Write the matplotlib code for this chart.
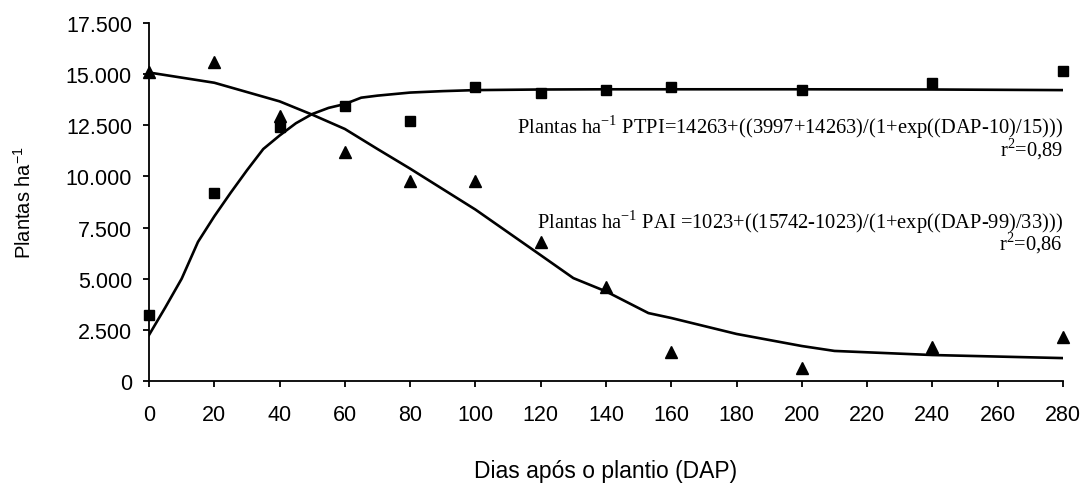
import matplotlib
matplotlib.use('Agg')
import matplotlib.pyplot as plt
from matplotlib.ticker import FuncFormatter

# observed points
dap = [0, 20, 40, 60, 80, 100, 120, 140, 160, 200, 240, 280]
ptpi_obs = [3225, 9190, 12410, 13440, 12710, 14370, 14080, 14220, 14370, 14220, 14560, 15150]
pai_obs = [15100, 15590, 12950, 11190, 9775, 9775, 6790, 4594, 1417, 635, 1660, 2150]

# fitted curves
ptpi_fit_x = [0, 5, 10, 15, 20, 25, 30, 35, 40, 45, 50, 55, 60, 65, 70, 80, 90, 100, 120, 140, 160, 200, 240, 280]
ptpi_fit_y = [2250, 3600, 5000, 6800, 8050, 9200, 10300, 11340, 12000, 12600, 13050, 13350, 13540, 13850, 13950,
              14100, 14170, 14220, 14250, 14260, 14260, 14260, 14250, 14220]
pai_fit_x = [0, 20, 40, 50, 60, 70, 80, 100, 120, 130, 140, 153, 160, 180, 200, 210, 240, 280]
pai_fit_y = [15080, 14580, 13670, 13020, 12320, 11340, 10380, 8380, 6150, 5030, 4380, 3320, 3080, 2300, 1710,
             1470, 1270, 1120]

eq_ptpi = r'Plantas ha$^{\mathregular{-1}}$ PTPI=14263+((3997+14263)/(1+exp((DAP-10)/15)))'
eq_pai = r'Plantas ha$^{\mathregular{-1}}$ PAI =1023+((15742-1023)/(1+exp((DAP-99)/33)))'
r2_ptpi = r'r$^{\mathregular{2}}$=0,89'
r2_pai = r'r$^{\mathregular{2}}$=0,86'

plt.rcParams['font.family'] = 'Liberation Sans'

fig = plt.figure(figsize=(10.83, 4.89), dpi=100)
ax = fig.add_axes([0.1376, 0.2188, 0.8439, 0.7321])

ax.plot(ptpi_fit_x, ptpi_fit_y, color='black', linewidth=1.9, zorder=2)
ax.plot(pai_fit_x, pai_fit_y, color='black', linewidth=1.9, zorder=2)
ax.plot(dap, ptpi_obs, linestyle='none', marker='s', markersize=6.5, color='black', zorder=3, clip_on=False)
ax.plot(dap, pai_obs, linestyle='none', marker='^', markersize=8.5, color='black', zorder=3, clip_on=False)

ax.set_xlim(0, 280)
ax.set_ylim(0, 17500)
ax.set_xticks(range(0, 281, 20))
ax.set_yticks(range(0, 17501, 2500))
ax.yaxis.set_major_formatter(FuncFormatter(lambda v, p: f'{int(v):,}'.replace(',', '.')))

for s in ['top', 'right']:
    ax.spines[s].set_visible(False)
for s in ['left', 'bottom']:
    ax.spines[s].set_linewidth(1.3)
ax.tick_params(direction='out', length=4.3, width=1.3, labelsize=15.5, pad=8)
ax.tick_params(axis='x', pad=12)

ax.set_ylabel(r'Plantas ha$^{\mathregular{-1}}$', fontsize=14.5, labelpad=22)
ax.set_xlabel('Dias após o plantio (DAP)', fontsize=16.5, labelpad=25)

# equation and r2 as one right-aligned block
tfont = dict(family='Liberation Serif', fontsize=14.8, ha='right', va='center',
             multialignment='right', linespacing=0.75)
ax.text(280, 11950, eq_ptpi + '\n' + r2_ptpi, **tfont)
ax.text(280, 7330, eq_pai + '\n' + r2_pai, **tfont)

fig.savefig('out.png', dpi=100)
